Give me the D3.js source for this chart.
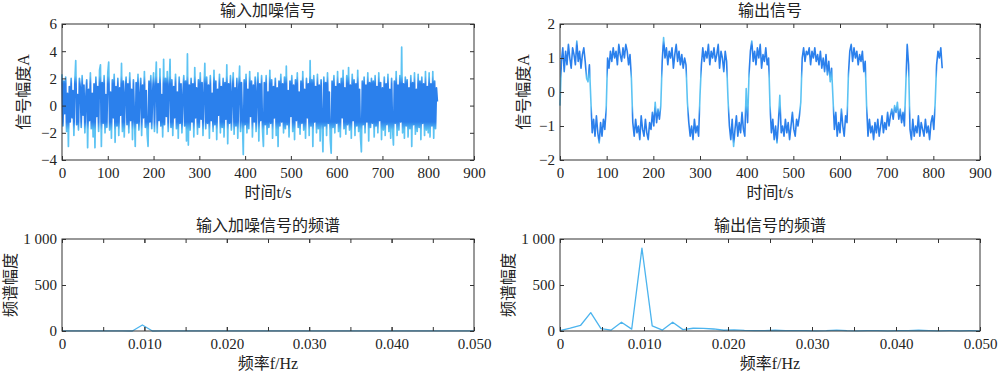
<!DOCTYPE html>
<html>
<head>
<meta charset="utf-8">
<script src="https://cdn.jsdelivr.net/npm/d3@7"></script>
<style>
  body { margin: 0; background: #fff; }
  text { font-family: "Liberation Serif", "Noto Sans CJK SC", serif; fill: #222; }
</style>
</head>
<body>
<svg id="chart" width="1000" height="373"></svg>
<script>
// ---- data ----
// input (noisy) signal, one sample every 2 s, t = 0..820
const inputSignal = [
  2.3,-1.5,1.8,-0.6,2.1,-1.9,0.9,-3.0,1.4,-1.2,2.0,-0.9,1.1,-2.2,1.7,3.3,-1.4,0.8,-1.8,2.0,
  1.3,-1.6,2.2,-0.7,1.5,-2.0,0.6,1.9,-3.1,1.2,-1.1,2.4,-1.7,0.9,-2.3,1.6,-3.1,2.1,-0.8,1.4,
  -1.9,2.6,3.0,-3.0,1.7,-1.3,2.2,-2.0,0.8,-1.6,2.4,3.2,-1.8,1.0,-2.4,1.9,-0.9,2.3,-2.7,1.4,
  -1.5,2.0,-2.2,1.3,-0.7,3.1,-1.9,1.8,-2.3,0.9,2.1,-1.4,1.6,-2.0,2.4,-1.1,1.2,-2.5,1.9,-0.6,
  -3.0,1.7,-1.3,2.3,-1.8,0.7,2.0,-2.2,1.5,-0.9,2.5,-1.6,1.1,-2.1,-3.0,1.8,-1.2,2.2,-1.7,0.9,
  2.4,-1.9,1.3,3.2,-2.0,1.6,-1.1,2.7,-1.5,0.8,-2.3,3.4,-1.4,2.0,-0.8,2.5,-1.9,1.2,3.4,-1.6,
  1.9,-2.2,1.4,-0.9,2.3,-1.7,1.0,-2.4,2.1,-1.3,1.6,-2.0,0.7,2.2,-1.5,1.8,-2.6,3.8,-2.9,1.5,
  -1.8,2.0,-1.2,1.6,-2.3,2.8,-0.9,1.3,-2.1,1.9,-1.6,2.4,-1.0,1.7,-2.2,0.8,3.1,-1.7,2.1,-1.3,
  1.5,-2.4,2.2,-1.1,0.9,-1.9,2.6,-1.4,1.8,-2.5,1.2,-0.7,2.3,-2.0,1.4,-1.6,2.0,-2.3,1.7,-1.0,
  3.0,-2.8,1.6,-1.3,2.2,-1.8,0.8,2.4,-2.1,1.3,-1.5,2.0,-2.4,1.1,2.9,-1.9,1.7,-0.9,-3.6,1.9,
  -1.4,2.3,-2.0,1.2,-1.7,2.5,-0.8,1.8,-2.3,1.5,-1.2,2.1,-1.9,0.9,2.4,-2.6,1.6,-1.1,2.2,-1.8,
  -3.0,1.7,-1.4,2.2,-2.1,1.0,-1.6,2.6,-1.3,1.9,-2.4,1.4,-0.9,2.0,-2.2,1.3,-3.0,1.8,-1.5,2.3,
  -1.2,1.6,-2.0,2.1,-1.7,2.9,-1.4,1.1,-2.3,1.8,-0.8,2.2,-1.9,1.5,-2.5,1.9,-1.1,2.4,-1.6,1.0,
  -2.1,1.8,-1.3,2.5,-1.8,1.2,-2.4,2.0,-0.9,1.6,-2.2,3.3,-1.5,1.9,-3.0,2.2,-1.2,1.4,-2.0,2.3,
  -1.7,1.5,-2.6,1.9,-1.1,-3.4,2.1,-1.5,1.7,-2.2,2.4,-1.3,1.0,-2.5,-3.5,1.8,-1.6,2.2,-2.0,1.4,
  -1.3,2.5,-1.9,1.6,-2.3,2.0,-0.9,2.6,-1.7,1.3,-2.1,2.2,-1.4,2.8,-1.8,1.5,-2.4,2.3,-1.1,1.9,
  -2.2,1.6,-1.5,2.6,-1.9,1.2,-2.3,-3.4,1.8,-1.4,2.1,-2.0,1.5,-1.2,2.4,-2.6,1.7,-1.6,2.0,-1.3,
  1.8,-2.3,2.2,-1.5,1.4,-2.0,2.4,-1.1,1.7,-2.5,1.3,-1.8,2.1,-2.2,1.6,-1.4,2.3,-1.9,1.2,-2.4,
  2.0,-1.6,-2.9,1.8,-1.3,2.5,-2.2,1.5,-1.8,2.2,-1.2,4.3,-2.0,1.6,-2.4,2.1,-1.5,1.9,-2.3,1.3,
  -1.7,2.2,-3.0,1.7,-1.4,2.4,-2.1,1.2,-1.9,2.3,-1.6,1.8,-2.5,2.1,-1.3,1.6,-2.2,2.5,-1.8,1.4,
  -2.0,2.4,-2.3,1.6,-1.5,2.5,-2.4,1.8,-1.7,1.3,0.3
];
const inputStep = 2;

// output signal, one sample every 3 s, t = 0..819
const outputSignal = [
  -0.4,0.9,1.3,0.6,1.2,0.8,1.4,1.0,0.7,1.3,1.1,0.8,1.5,0.9,1.2,0.7,1.1,1.3,0.9,0.4,
  0.3,0.8,-0.2,-1.2,-0.8,-1.3,-0.7,-1.2,-1.5,-0.9,-1.3,-0.8,-1.1,-0.5,1.0,0.7,1.2,0.9,1.3,1.0,
  1.2,0.8,1.4,1.1,0.9,1.3,1.0,1.4,1.2,0.8,1.1,0.4,-0.9,-1.3,-0.8,-1.2,-1.0,-1.4,-0.7,-1.1,
  -1.3,-0.8,-1.2,-1.4,-0.9,-1.1,-0.6,-1.0,-0.3,-0.9,-0.5,-0.8,-0.4,0.9,1.6,1.0,1.3,0.8,1.2,1.0,
  1.3,0.7,1.1,1.4,0.9,1.2,0.8,1.1,0.7,1.0,0.8,-0.3,-0.9,-1.3,-1.0,-1.4,-0.8,-1.2,-1.0,-1.3,
  -0.1,0.8,1.3,0.9,1.2,1.0,1.4,0.8,1.2,1.0,1.3,0.9,1.1,1.4,0.7,1.2,1.0,0.6,1.2,0.9,
  -0.2,-1.0,-1.4,-0.8,-1.6,-1.1,-0.7,-1.3,-0.9,-1.2,-0.6,-1.1,-1.3,0.1,-0.9,0.5,1.2,1.5,0.9,1.2,
  0.8,1.3,1.0,1.4,0.7,1.1,0.9,1.3,0.8,1.0,-0.4,-1.2,-0.8,-1.4,-1.0,-1.5,-0.9,-0.1,-1.2,-1.0,
  -1.3,-0.8,-1.2,-0.9,-1.4,-1.0,-0.6,-1.1,-1.3,-0.8,-1.0,-0.7,-0.3,1.0,1.3,0.9,1.2,1.1,1.3,0.8,
  1.2,1.0,1.3,0.9,1.1,0.8,1.2,0.7,1.0,0.6,1.1,0.5,0.9,0.3,0.7,-0.2,-1.1,-0.6,-1.3,-0.9,
  -1.2,-0.5,-1.0,-1.3,-0.7,-0.9,0.5,1.2,1.4,0.9,1.3,1.0,1.2,0.8,1.1,0.9,1.2,0.6,0.9,-0.4,
  -1.3,-0.8,-1.2,-1.0,-1.4,-0.9,-1.2,-0.8,-1.3,-1.0,-0.7,-1.2,-0.9,-1.1,-0.6,-1.0,-0.7,-0.5,-0.8,-0.4,
  -0.6,-0.3,-0.8,-0.5,-0.9,-0.6,-1.0,0.2,1.4,0.8,-1.1,-1.4,-0.8,-1.3,-1.0,-1.2,-0.7,-1.3,-0.9,-1.1,
  -1.3,-0.8,-1.2,-1.0,-1.4,-0.9,-0.7,-1.1,-0.3,0.8,1.2,1.0,1.3,0.7
];
const outputStep = 3;

// spectra, bins k/820 Hz, k = 0..41
const spectrumBins = 41;
const inputSpectrum = [
  2,1,2,1,2,1,1,0,65,0,1,2,1,1,2,1,1,2,1,1,
  1,2,1,1,1,2,1,1,1,1,2,1,1,1,1,2,1,1,1,1,1,1
];
const outputSpectrum = [
  5,30,60,200,25,10,95,20,900,55,10,95,15,30,28,22,8,12,6,5,
  3,8,4,3,5,2,4,10,3,2,4,3,2,4,3,8,5,2,3,2,3,2
];

const timeTicks = d3.range(0, 901, 100);
const inputTicks = [-4, -2, 0, 2, 4, 6];
const outputTicks = [-2, -1, 0, 1, 2];
const freqTicks = [0, 0.01, 0.02, 0.03, 0.04, 0.05];
const freqMinorTicks = d3.range(0, 0.0501, 0.005);
const specTicks = [0, 500, 1000];

const titles = ["输入加噪信号", "输出信号", "输入加噪信号的频谱", "输出信号的频谱"];
const timeLabel = "时间t/s";
const freqLabel = "频率f/Hz";
const ampLabel = "信号幅度A";
const specLabel = "频谱幅度";

// ---- drawing ----
const svg = d3.select("#chart");
const defs = svg.append("defs");
const cyan = "#5cc3f3", blue = "#2b80ec";

function gradient(id, y, stops) {
  const g = defs.append("linearGradient")
    .attr("id", id)
    .attr("gradientUnits", "userSpaceOnUse")
    .attr("x1", 0).attr("x2", 0)
    .attr("y1", y.range()[1]).attr("y2", y.range()[0]);
  stops.forEach(s => g.append("stop").attr("offset", s[0]).attr("stop-color", s[1]));
}

function panel(o) {
  const x = d3.scaleLinear().domain(o.xDomain).range([o.left, o.right]);
  const y = d3.scaleLinear().domain(o.yDomain).range([o.bottom, o.top]);
  const g = svg.append("g");

  // series
  if (o.grad) gradient(o.grad.id, y, o.grad.stops);
  g.append("path")
    .datum(o.data)
    .attr("d", d3.line().x(d => x(d[0])).y(d => y(d[1])))
    .attr("fill", "none")
    .attr("stroke", o.grad ? `url(#${o.grad.id})` : o.color)
    .attr("stroke-width", o.width || 1)
    .attr("stroke-linejoin", "round");

  // axes, MATLAB-like inward ticks on all four sides
  const tickLen = -4;
  g.append("g").attr("transform", `translate(0,${o.bottom})`)
    .call(d3.axisBottom(x).tickValues(o.xTicks).tickSize(tickLen).tickPadding(7).tickFormat(o.xFormat));
  g.append("g").attr("transform", `translate(${o.left},0)`)
    .call(d3.axisLeft(y).tickValues(o.yTicks).tickSize(tickLen).tickPadding(5).tickFormat(o.yFormat));
  g.append("g").attr("transform", `translate(0,${o.top})`)
    .call(d3.axisTop(x).tickValues(o.xTicks).tickSize(tickLen).tickFormat(""));
  g.append("g").attr("transform", `translate(${o.right},0)`)
    .call(d3.axisRight(y).tickValues(o.yTicks).tickSize(tickLen).tickFormat(""));
  if (o.xMinor) {
    g.append("g").attr("transform", `translate(0,${o.bottom})`)
      .call(d3.axisBottom(x).tickValues(o.xMinor).tickSize(tickLen).tickFormat(""));
    g.append("g").attr("transform", `translate(0,${o.top})`)
      .call(d3.axisTop(x).tickValues(o.xMinor).tickSize(tickLen).tickFormat(""));
  }
  g.selectAll(".domain").remove();
  g.selectAll(".tick line").attr("stroke", "#333");
  g.selectAll(".tick text").style("font-size", "15px").attr("fill", "#222");

  g.append("rect")
    .attr("x", o.left).attr("y", o.top)
    .attr("width", o.right - o.left).attr("height", o.bottom - o.top)
    .attr("fill", "none").attr("stroke", "#333").attr("stroke-width", 1);

  // labels
  const cx = (o.left + o.right) / 2;
  g.append("text").attr("x", cx).attr("y", o.top - 8)
    .attr("text-anchor", "middle").style("font-size", "16px").text(o.title);
  g.append("text").attr("x", cx).attr("y", o.bottom + 38)
    .attr("text-anchor", "middle").style("font-size", "16px").text(o.xLabel);
  g.append("text")
    .attr("transform", `translate(${o.yLabelX},${(o.top + o.bottom) / 2}) rotate(-90)`)
    .attr("text-anchor", "middle").attr("dy", "0.35em")
    .style("font-size", "16px").text(o.yLabel);
}

const fmtThousand = d => d >= 1000 ? d3.format(",")(d).replace(",", " ") : String(d);
const fmtFreq = d => d === 0 ? "0" : d3.format(".3f")(d);
const fmtPlain = d => String(d).replace("-", "\u2212");

panel({
  left: 62, right: 474, top: 24, bottom: 160,
  xDomain: [0, 900], yDomain: [-4, 6],
  xTicks: timeTicks, yTicks: inputTicks,
  xFormat: d => String(d), yFormat: fmtPlain,
  data: inputSignal.map((v, i) => [i * inputStep, v]),
  grad: { id: "gIn", stops: [[0, cyan], [0.38, cyan], [0.44, blue], [0.72, blue], [0.78, cyan], [1, cyan]] },
  width: 1.7,
  title: titles[0], xLabel: timeLabel, yLabel: ampLabel, yLabelX: 23
});

panel({
  left: 560, right: 980, top: 24, bottom: 160,
  xDomain: [0, 900], yDomain: [-2, 2],
  xTicks: timeTicks, yTicks: outputTicks,
  xFormat: d => String(d), yFormat: fmtPlain,
  data: outputSignal.map((v, i) => [i * outputStep, v]),
  grad: { id: "gOut", stops: [[0, cyan], [0.12, cyan], [0.16, blue], [0.33, blue], [0.4, cyan], [0.6, cyan],
                              [0.67, blue], [0.84, blue], [0.88, cyan], [1, cyan]] },
  width: 1.6,
  title: titles[1], xLabel: timeLabel, yLabel: ampLabel, yLabelX: 523
});

panel({
  left: 62, right: 474, top: 239, bottom: 331,
  xDomain: [0, 0.05], yDomain: [0, 1000],
  xTicks: freqTicks, xMinor: freqMinorTicks, yTicks: specTicks,
  xFormat: fmtFreq, yFormat: fmtThousand,
  data: inputSpectrum.map((v, k) => [k / (spectrumBins * 20), v]),
  color: "#4cb4ee", width: 1.3,
  title: titles[2], xLabel: freqLabel, yLabel: specLabel, yLabelX: 10
});

panel({
  left: 560, right: 980, top: 239, bottom: 331,
  xDomain: [0, 0.05], yDomain: [0, 1000],
  xTicks: freqTicks, xMinor: freqMinorTicks, yTicks: specTicks,
  xFormat: fmtFreq, yFormat: fmtThousand,
  data: outputSpectrum.map((v, k) => [k / (spectrumBins * 20), v]),
  color: "#4cb4ee", width: 1.3,
  title: titles[3], xLabel: freqLabel, yLabel: specLabel, yLabelX: 508
});
</script>
</body>
</html>
